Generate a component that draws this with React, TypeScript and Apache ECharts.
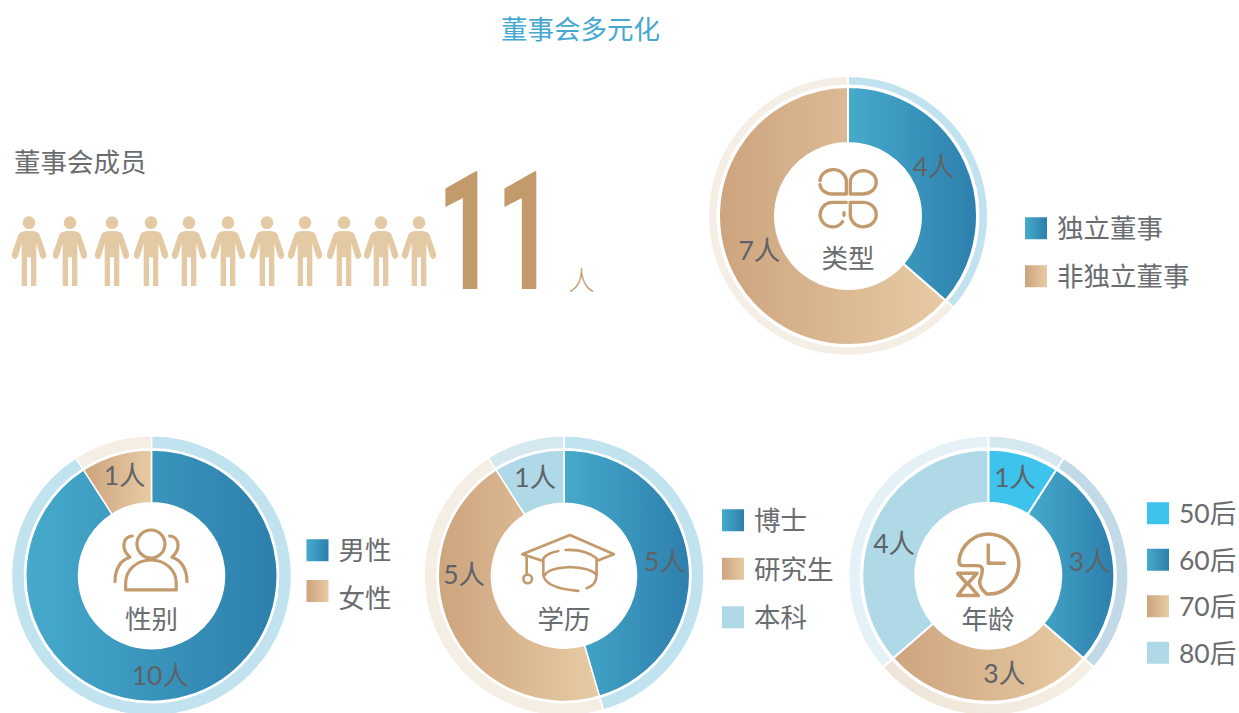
import React, { useEffect, useRef } from "react";
import * as echarts from "echarts";

const boardTitle = "董事会多元化";
const memberLabel = "董事会成员";
const memberCount = "11";
const memberUnit = "人";
const personX = [29, 70, 112, 151, 189, 228, 267, 305, 344, 381, 419];

const typeNames = ["独立董事", "非独立董事"];
const typeValues = [4, 7];
const genderNames = ["男性", "女性"];
const genderValues = [10, 1];
const eduNames = ["博士", "研究生", "本科"];
const eduValues = [5, 5, 1];
const ageNames = ["50后", "60后", "70后", "80后"];
const ageValues = [1, 3, 3, 4];

const FONT = 'Lato, "Noto Sans CJK SC", sans-serif';
const TEXT = "#6a6d70";
const GOLD = "#c39a6c";
const SIZE = 26.5;

const grad = (a: string, b: string) =>
  new echarts.graphic.LinearGradient(0, 0, 1, 0, [
    { offset: 0, color: a },
    { offset: 1, color: b },
  ]);
const BLUE = () => grad("#46aacb", "#2d7fad");
const TAN = () => grad("#cda47e", "#e7cba4");

const PERSON =
  "M19 38A19 19 0 1 1 -19 38A19 19 0 1 1 19 38Z" +
  "M-10 63L10 63Q30 65 33 78L51 130Q53 145 42 147Q36 147 32 135L22 100L22 228L6 228L6 142L-6 142L-6 228L-22 228L-22 100L-32 135Q-36 147 -42 147Q-53 145 -51 130L-33 78Q-30 65 -10 63Z";
const CLOVER =
  "M36 62A39 35 0 0 1 115 67V102H72A36 32 0 0 1 36 74" +
  "M127 102V67A39 35 0 1 1 166 102Z" +
  "M115 127H72A37 37 0 1 0 104 185M108 158V166" +
  "M127 127H168A39 37 0 1 1 127 164Z";
const PEOPLE =
  "M96 72A42 42 0 1 1 180 72A42 42 0 1 1 96 72Z" +
  "M62 210V190C62 150 95 120 138 120C181 120 214 150 214 190V210Z" +
  "M82 48C55 50 45 85 75 112C45 120 30 150 30 185" +
  "M194 48C221 50 231 85 201 112C231 120 246 150 246 185";
const CAP =
  "M85 108L22 88L165 30L297 88L245 108" +
  "M35 92V150M51 162A13 13 0 1 1 25 162A13 13 0 1 1 51 162Z" +
  "M85 100V150M245 100V150" +
  "M85 100Q100 83 130 78M152 75Q210 72 245 100" +
  "M90 150Q100 130 165 126Q235 130 245 152" +
  "M85 150Q90 190 190 198M215 190Q245 180 245 150";
const CLOCK =
  "M42 108A90 90 0 1 1 125 207" +
  "M42 108Q42 122 55 122H98Q112 122 112 136Q112 150 105 165Q100 185 125 207" +
  "M38 145H96L72 172Q68 176 72 180L100 212H38L62 180Q66 176 62 172Z" +
  "M130 60V115H178";

echarts.graphic.registerShape("personIcon", echarts.graphic.extendPath(PERSON, {}));
echarts.graphic.registerShape("cloverIcon", echarts.graphic.extendPath(CLOVER, {}));
echarts.graphic.registerShape("peopleIcon", echarts.graphic.extendPath(PEOPLE, {}));
echarts.graphic.registerShape("capIcon", echarts.graphic.extendPath(CAP, {}));
echarts.graphic.registerShape("clockIcon", echarts.graphic.extendPath(CLOCK, {}));

type PieDef = {
  names: string[];
  values: number[];
  center: [number, number];
  inner: [number, number];
  ring: [number, number];
  border: number;
  colors: any[];
  ringColors: any[];
  shift: [number, number][];
};

const pies: PieDef[] = [
  {
    names: typeNames,
    values: typeValues,
    center: [848, 216],
    inner: [73, 129],
    ring: [130.5, 140],
    border: 2,
    colors: [BLUE(), TAN()],
    ringColors: ["#c1e2ef", "#f4eee4"],
    shift: [[-9, -7], [6, -9]],
  },
  {
    names: genderNames,
    values: genderValues,
    center: [151.5, 575.7],
    inner: [73, 125.7],
    ring: [127, 140],
    border: 1.5,
    colors: [BLUE(), TAN()],
    ringColors: ["#c1e2ef", "#f4eee4"],
    shift: [[-20, 1], [2, -2]],
  },
  {
    names: eduNames,
    values: eduValues,
    center: [564, 575.7],
    inner: [72.5, 125.7],
    ring: [127, 140],
    border: 1.5,
    colors: [BLUE(), TAN(), "#afd9e6"],
    ringColors: ["#c1e2ef", "#f4eee4", "#d5e8ef"],
    shift: [[0, 0], [-7, -44], [0, -1]],
  },
  {
    names: ageNames,
    values: ageValues,
    center: [988.3, 575.7],
    inner: [73, 126],
    ring: [127.5, 140],
    border: 2,
    colors: ["#3ec4ec", BLUE(), TAN(), "#afd9e6"],
    ringColors: ["#d5e8ef", "#c2d9e7", grad("#f0e4d8", "#f6efe4"), "#e4f1f6"],
    shift: [[-2, 0], [0, 0], [16, -5], [-1, 10]],
  },
];

const pieSeries = pies.flatMap((p) => [
  {
    type: "pie",
    center: p.center,
    radius: p.inner,
    startAngle: 90,
    clockwise: true,
    silent: true,
    z: 3,
    itemStyle: { borderColor: "#fff", borderWidth: p.border },
    label: {
      show: true,
      position: "inside",
      formatter: "{c}人",
      fontSize: SIZE,
      fontFamily: FONT,
      fontWeight: 400,
      color: "#5d6368",
      textBorderWidth: 0,
    },
    labelLine: { show: false },
    labelLayout: (params: any) => {
      const s = p.shift[params.dataIndex];
      return { dx: s[0], dy: s[1] };
    },
    data: p.names.map((name, i) => ({
      name,
      value: p.values[i],
      itemStyle: { color: p.colors[i] },
    })),
  },
  {
    type: "pie",
    center: p.center,
    radius: p.ring,
    startAngle: 90,
    clockwise: true,
    silent: true,
    z: 2,
    itemStyle: { borderColor: "#fff", borderWidth: p.border },
    label: { show: false },
    labelLine: { show: false },
    data: p.names.map((name, i) => ({
      name,
      value: p.values[i],
      itemStyle: { color: p.ringColors[i] },
    })),
  },
]);

const legend = (names: string[], left: number, top: number, gap: number, textTop = 0) => ({
  data: names,
  orient: "vertical",
  left,
  top,
  padding: 0,
  itemWidth: 22,
  itemHeight: 22,
  itemGap: gap,
  icon: "rect",
  selectedMode: false,
  itemStyle: { borderWidth: 0 },
  ...(textTop ? { formatter: "{t|{name}}" } : {}),
  textStyle: {
    fontSize: SIZE,
    fontFamily: FONT,
    fontWeight: 400,
    color: TEXT,
    padding: [0, 0, 0, 5],
    ...(textTop
      ? {
          rich: {
            t: {
              fontSize: SIZE,
              fontFamily: FONT,
              fontWeight: 400,
              color: TEXT,
              padding: [textTop, 0, 0, 0],
            },
          },
        }
      : {}),
  },
});

const text = (t: string, x: number, y: number, extra: any = {}) => ({
  type: "text",
  x,
  y,
  silent: true,
  style: {
    text: t,
    fill: TEXT,
    fontSize: SIZE,
    fontFamily: FONT,
    fontWeight: 400,
    textAlign: "center",
    textVerticalAlign: "middle",
    ...extra,
  },
});

const icon = (type: string, x: number, y: number, lineWidth: number) => ({
  type,
  x,
  y,
  scaleX: 1 / 3,
  scaleY: 1 / 3,
  silent: true,
  style: { fill: "none", stroke: GOLD, lineWidth, lineCap: "round", lineJoin: "round" },
});

export default function App() {
  const ref = useRef<HTMLDivElement>(null);
  useEffect(() => {
    if (!ref.current) return;
    const chart = echarts.init(ref.current, undefined, { renderer: "svg" });
    chart.setOption({
      animation: false,
      backgroundColor: "#fff",
      title: {
        text: boardTitle,
        left: 575.5,
        top: 11,
        textAlign: "center",
        textStyle: { fontSize: SIZE, fontFamily: FONT, fontWeight: 400, color: "#45a8d0" },
      },
      legend: [
        legend(typeNames, 1025, 215, 21.5),
        legend(genderNames.slice(0, 1), 306.5, 537, 22),
        legend(genderNames.slice(1), 306.5, 580, 22, 14),
        legend(eduNames, 722, 507, 22),
        legend(ageNames, 1147, 500, 20),
      ],
      series: pieSeries,
      graphic: [
        text(memberLabel, 14, 162, { textAlign: "left" }),
        ...personX.map((x) => ({
          type: "personIcon",
          x,
          y: 210,
          scaleX: 1 / 3,
          scaleY: 1 / 3,
          silent: true,
          style: { fill: "#e4caa4" },
        })),
        {
          type: "text",
          x: 437,
          y: 315,
          scaleX: 0.62,
          silent: true,
          style: {
            text: memberCount,
            fill: GOLD,
            fontSize: 166,
            fontWeight: "bold",
            fontFamily: "Roboto",
            textAlign: "left",
            textVerticalAlign: "bottom",
          },
        },
        text(memberUnit, 581.5, 280, { fill: GOLD, fontWeight: 300 }),
        icon("cloverIcon", 808, 160, 10),
        icon("peopleIcon", 105, 520, 9.5),
        icon("capIcon", 515, 525, 8),
        icon("clockIcon", 945, 525, 10.5),
        text("类型", 848, 258),
        text("性别", 151.5, 619),
        text("学历", 564, 619),
        text("年龄", 988, 619),
      ],
    });
    return () => chart.dispose();
  }, []);
  return (
    <div
      ref={ref}
      style={{ position: "fixed", left: 0, top: 0, width: 1239, height: 713, background: "#fff" }}
    />
  );
}
